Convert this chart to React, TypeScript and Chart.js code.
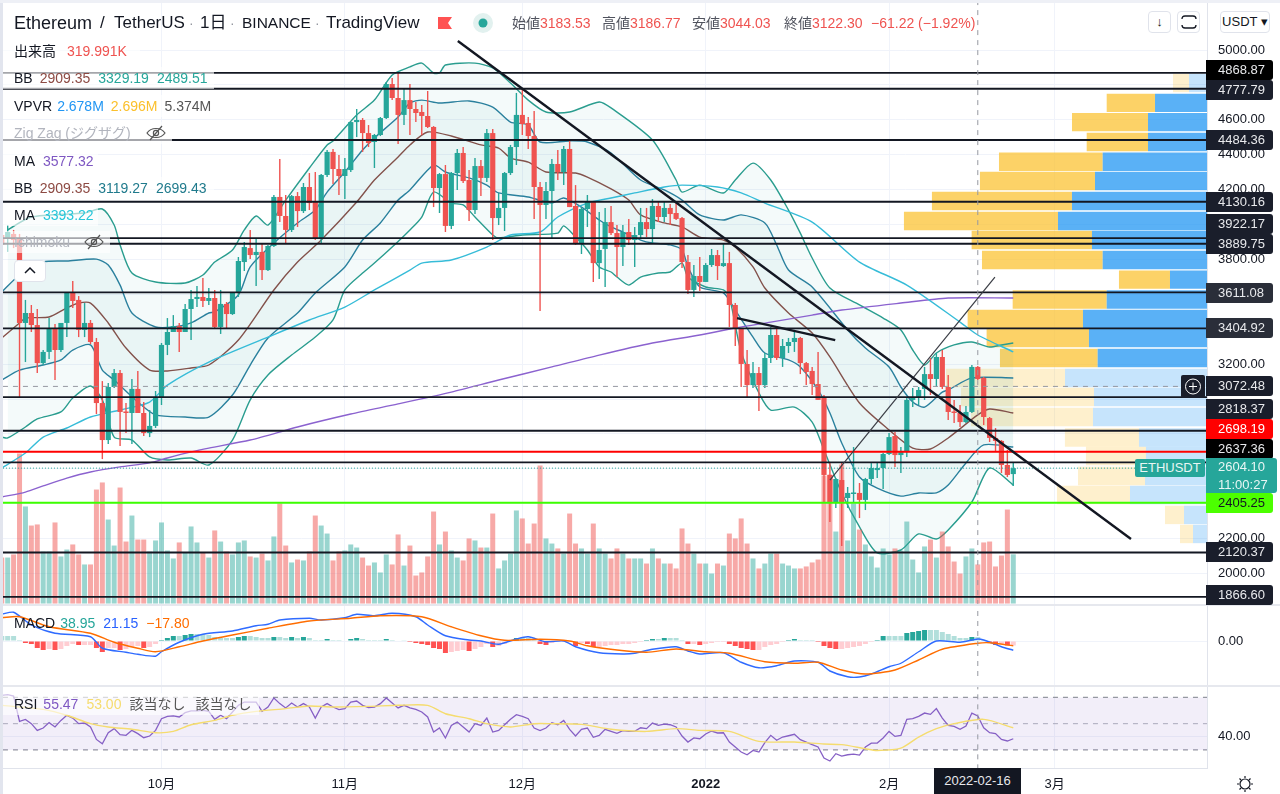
import React, { useEffect, useRef } from "react";
import { Chart, registerables } from "chart.js";

Chart.register(...registerables);

const FIRST_DAY = -27; // day index relative to 2021-10-01
const opens = [3940,3923,3946,3923,3436,3493,3424,3206,3270,3407,
3281,3436,3608,3568,3396,3436,3327,2977,2765,3069,
3149,2926,2920,3058,2920,2805,2846,3012,3310,3384,
3418,3384,3516,3573,3585,3562,3579,3413,3545,3487,
3608,3785,3865,3825,3843,3739,3877,4158,4049,3969,
4163,4077,4215,4129,3917,4284,4416,4318,4278,4312,
4587,4599,4524,4473,4513,4610,4805,4725,4628,4713,
4662,4645,4622,4559,4209,4289,3992,4295,4410,4255,
4083,4335,4267,4524,4037,4095,4295,4444,4628,4582,
4507,4215,4112,4192,4347,4301,4433,4106,3888,4089,
4129,3779,3860,4014,3951,3871,3957,3911,3940,4014,
3974,4106,4043,4095,4066,4037,3785,3625,3705,3671,
3768,3825,3762,3779,3539,3407,3201,3080,3149,3080,
3235,3367,3235,3304,3327,3350,3206,3161,3086,3006,
2565,2404,2536,2433,2456,2462,2422,2542,2593,2605,
2685,2788,2679,2696,2995,3012,3058,3143,3115,3241,
3069,2926,2920,2868,2926,3184,3121,2891,2777,2760,
2622,2570];
const closes = [3883,3957,3911,3436,3493,3424,3206,3270,3407,3281,
3436,3608,3562,3396,3436,3327,2977,2765,3069,3149,
2926,2920,3058,2920,2805,2846,3012,3310,3384,3418,
3384,3516,3573,3585,3562,3579,3413,3545,3487,3608,
3791,3871,3825,3843,3739,3877,4158,4049,3969,4163,
4077,4215,4123,3917,4284,4416,4318,4278,4318,4587,
4599,4524,4467,4513,4610,4805,4725,4628,4713,4662,
4639,4622,4559,4209,4289,3992,4295,4410,4249,4083,
4335,4267,4524,4037,4095,4295,4444,4628,4576,4507,
4215,4112,4192,4347,4301,4433,4100,3888,4089,4129,
3779,3854,4014,3951,3871,3957,3911,3940,4014,3974,
4106,4043,4095,4060,4032,3785,3625,3705,3671,3768,
3825,3762,3779,3539,3407,3201,3080,3149,3080,3235,
3367,3235,3304,3327,3350,3206,3155,3086,2995,2565,
2404,2542,2404,2462,2462,2422,2542,2605,2605,2685,
2782,2679,2696,2995,3012,3052,3143,3115,3241,3069,
2926,2920,2868,2926,3184,3115,2897,2777,2760,2622,
2565,2604];
const highs = [3980,3997,3969,3946,3568,3539,3516,3281,3464,3430,
3436,3613,3676,3590,3550,3453,3350,3103,3092,3172,
3166,2977,3115,3161,2983,2937,3046,3321,3464,3481,
3436,3545,3625,3648,3694,3636,3625,3625,3556,3613,
3814,3900,3969,3917,3894,3883,4169,4375,4169,4169,
4186,4238,4295,4301,4289,4427,4433,4398,4381,4587,
4662,4610,4570,4519,4616,4817,4840,4868,4782,4805,
4702,4685,4765,4564,4295,4341,4301,4433,4444,4312,
4381,4370,4547,4547,4181,4301,4456,4754,4776,4616,
4650,4244,4244,4375,4427,4450,4490,4226,4100,4169,
4135,4072,4095,4106,3997,3997,4032,3986,4095,4095,
4146,4129,4129,4118,4129,4043,3825,3768,3814,3779,
3860,3854,3894,3843,3550,3407,3281,3212,3184,3264,
3413,3413,3344,3350,3396,3356,3212,3184,3270,3023,
2633,2548,2633,2496,2725,2519,2548,2633,2639,2691,
2805,2811,2725,3006,3063,3069,3184,3235,3264,3281,
3138,2995,2966,2960,3195,3189,3126,2897,2834,2765,
2708,2633];
const lows = [3854,3843,3865,3006,3212,3384,3149,3195,3229,3109,
3270,3355,3522,3355,3355,3315,2914,2656,2742,3063,
2731,2805,2742,2920,2788,2782,2834,2966,3252,3384,
3270,3384,3338,3527,3527,3539,3407,3373,3407,3482,
3585,3734,3802,3648,3682,3734,3871,4014,3888,3957,
3986,4066,4083,3911,3894,4272,4232,4169,4146,4301,
4501,4416,4444,4324,4507,4605,4713,4461,4570,4513,
4587,4513,4553,4100,4066,3957,3974,4198,4238,4020,
4060,4163,4244,3911,3997,3963,4284,4341,4513,4433,
4032,3504,4032,3923,4255,4226,4100,3883,3831,3986,
3671,3688,3642,3940,3699,3762,3883,3757,3917,3928,
3894,4014,4014,3997,4026,3751,3602,3585,3619,3671,
3757,3682,3757,3413,3304,3069,3006,3063,2931,3063,
3206,3224,3184,3264,3270,3143,3080,3023,2995,2404,
2295,2376,2158,2376,2404,2318,2364,2513,2547,2484,
2679,2611,2576,2668,2954,2966,2995,3023,3069,3058,
2880,2863,2840,2863,2920,3109,2851,2754,2697,2576,
2553,2502];
const volumes = [299,299,319,975,631,507,514,338,338,527,
306,351,384,319,254,254,741,787,546,377,
754,403,572,416,416,338,410,527,345,293,
397,332,501,397,332,299,475,403,338,319,
397,410,306,299,325,280,436,650,377,267,
286,280,338,572,507,455,280,338,345,384,
364,299,247,267,202,319,254,449,247,377,
182,202,306,598,384,468,345,299,280,423,
410,364,364,585,228,280,325,605,
553,390,520,897,423,390,358,325,585,390,
358,325,520,358,325,293,358,325,293,293,
293,260,358,293,260,260,228,488,390,325,
260,260,195,260,247,455,423,553,390,293,
228,260,325,325,260,247,228,
228,241,267,286,832,839,468,904,410,650,481,384,306,234,358,319,358,345,533,286,202,371,416,299,468,371,273,195,306,358,254,397,403,241,312,611,320];
const macdHist = [20,20,20,4,-8,-12,-28,-36,-32,-36,-32,-20,-12,-16,-16,-16,-28,-44,-28,-28,
-36,-32,-24,-20,-28,-24,-12,4,12,20,20,24,28,28,28,24,16,12,12,12,
16,20,20,16,12,12,16,16,12,16,12,16,12,4,4,8,4,4,2,8,
12,8,4,4,4,8,4,2,1,-4,-8,-12,-16,-28,-32,-48,-44,-40,-36,-40,
-32,-24,-12,-24,-20,-12,-4,
12,12,12,4,-12,-16,-8,-4,-4,-4,-20,-8,-12,-24,-24,-20,-16,-16,-12,-12,
-8,-4,4,8,8,12,12,12,4,-12,-12,-16,-12,-8,-4,-4,-12,-20,-28,-32,
-36,-36,-24,-16,-12,-4,4,8,4,4,4,-4,-20,-28,-32,-32,-28,-24,-20,-12,
-4,4,20,20,20,20,32,36,40,44,44,44,36,28,20,12,12,16,16,4,
-4,-16,-12,-18,-18];
const macdLine = [[-27,107],[-25,115],[-22,64],[-18,31],[-12,17],[-10,-29],[-6,-45],[-4,-53],[-1,-61],[0,-43],[3,-5],[7,27],[12,40],[16,61],[18,67],[20,84],[25,91],[27,84],[31,93],[33,107],[36,101],[39,111],[43,97],[45,64],[48,21],[52,4],[54,0],[57,-13],[60,8],[62,17],[65,-3],[68,0],[70,-23],[74,-47],[78,-52],[80,-49],[83,-33],[87,-23],[89,-40],[91,-52],[95,-47],[98,-85],[101,-107],[104,-99],[107,-80],[111,-85],[113,-120],[116,-143],[118,-144],[120,-132],[123,-103],[125,-89],[128,-43],[131,0],[135,-5],[138,8],[139,4],[142,-23],[144,-37]];
const macdSignal = [[-27,93],[-24,97],[-19,57],[-12,31],[-8,-5],[-4,-29],[-1,-43],[3,-23],[7,0],[12,24],[18,51],[25,80],[32,91],[37,101],[44,97],[49,57],[54,21],[58,3],[64,7],[69,0],[72,-19],[77,-36],[82,-45],[87,-32],[92,-43],[96,-49],[102,-83],[107,-89],[111,-85],[115,-116],[119,-132],[124,-116],[128,-76],[132,-33],[138,-9],[140,-7],[144,-19]];
const rsiValues = [71.6,72.1,71.1,51.8,53.3,50,44.9,46.7,50.8,47.5,52.5,56.4,54.3,50,50.5,47.5,38,34.7,43.1,46.2,41.6,41.1,44.9,42.4,39.3,40.6,44.9,53.8,55.6,55.9,55.1,58.4,59.7,59.7,60.2,59.4,53.3,56.4,53.8,58.9,64,66.5,66.5,66.5,59.4,62.7,69.6,65.3,62,65.8,62.7,65.3,62.7,54.3,62.7,65.3,62.7,60.7,61.5,66.5,67.3,64,62.2,62.7,65.3,69.6,65.8,62,64,62,60.9,58.9,55.1,43.6,46.7,39.1,48.7,51.3,47.5,43.6,50,48.7,54.3,43.6,44.9,49.2,53.3,56.9,
55.6,53.8,46.7,44.7,46.7,50.8,49.2,52.5,45.7,40.6,45.7,46.7,39.6,41.1,45.7,44.1,42.6,44.7,44.1,44.1,46.9,46.2,50.5,48.7,49.7,49.2,47.5,40.6,36,39.1,38.5,42.1,44.4,42.9,43.1,36,32.2,28.4,26.3,29.6,28.4,35.5,41.1,37.3,39.8,40.8,41.9,37.8,36,34,32.2,23.8,21.5,27.1,25.3,26.3,26.8,26.1,32.2,35.2,35.2,39.1,44.1,40.3,41.1,53.3,53.8,55.6,58.1,57.1,61.5,54.3,48.7,48,45.7,48.2,58.1,55.9,46.9,43.1,42.4,38,36.8,38.5];
const rsiAverage = [[-27,64],[-24,62.7],[-20,60.9],[-16,56.4],[-12,50],[-9,47.5],[-5,45.7],[-1,43.1],[2,44.1],[5,49.2],[9,52.5],[12,56.4],[16,59.4],[21,61.5],[25,63.5],[29,62.7],[35,63.2],[40,64],[45,64],[48,57.6],[52,53.8],[55,50],[59,47.5],[63,50],[66,50],[71,49.5],[76,45.7],[82,44.1],[87,46.2],[91,44.9],[96,44.1],[101,36.5],[107,36],[112,34.5],[115,34],[119,30.9],[121,29.6],[125,31.4],[128,39.8],[131,46.2],[134,50],[139,53.3],[144,46.9]];
const bbOuterUpper = [[-26,3969],[-22,4043],[-13,4066],[-10,4089],[-8,3997],[-7,3883],[-5,3722],[-1,3671],[4,3665],[7,3711],[9,3785],[12,3854],[14,3969],[16,4049],[18,3997],[21,4140],[25,4324],[28,4456],[29,4479],[33,4628],[36,4713],[39,4857],[42,4903],[44,4925],[46,4868],[47,4868],[48,4914],[53,4925],[56,4897],[59,4811],[62,4713],[65,4645],[69,4645],[74,4702],[76,4668],[83,4484],[87,4255],[88,4186],[91,4226],[95,4181],[97,4255],[100,4352],[103,4255],[106,4083],[108,3951],[110,3808],[113,3636],[118,3539],[122,3464],[125,3396],[127,3281],[129,3195],[131,3264],[134,3310],[137,3327],[140,3298],[142,3310],[144,3321]];
const bbOuterLower = [[-27,2782],[-26,2777],[-23,2840],[-21,2886],[-17,2926],[-15,3006],[-12,3075],[-10,2995],[-8,2782],[-5,2765],[-2,2668],[1,2651],[5,2662],[8,2622],[12,2765],[15,2995],[18,3138],[22,3252],[26,3355],[29,3453],[31,3625],[34,3722],[36,3779],[39,3871],[42,3969],[44,4043],[46,4186],[49,4123],[51,4112],[53,4043],[56,3940],[57,3923],[61,3940],[67,3951],[68,3992],[70,3928],[72,3854],[74,3757],[76,3728],[77,3699],[79,3653],[81,3699],[84,3722],[86,3728],[88,3779],[89,3699],[92,3642],[95,3625],[96,3585],[98,3270],[101,3035],[103,2937],[107,2954],[110,2868],[112,2708],[115,2462],[118,2267],[121,2118],[125,2135],[128,2227],[131,2198],[133,2250],[137,2410],[140,2605],[144,2507]];
const bbInnerUpper = [[-27,3613],[-24,3711],[-20,3785],[-16,3791],[-11,3802],[-9,3768],[-7,3653],[-5,3493],[-1,3413],[2,3413],[5,3436],[8,3493],[9,3499],[13,3596],[15,3757],[19,3894],[23,4009],[26,4083],[28,4186],[31,4301],[34,4427],[36,4496],[40,4616],[42,4696],[44,4713],[47,4696],[52,4708],[56,4673],[59,4587],[62,4570],[64,4473],[69,4479],[72,4473],[76,4410],[81,4255],[85,4198],[88,4140],[91,4055],[95,4026],[98,4055],[102,4009],[104,3883],[106,3739],[110,3642],[116,3396],[119,3292],[123,3184],[125,3069],[127,2983],[129,2954],[132,3040],[133,3052],[137,3121],[144,3121]];
const bbInnerLower = [[-27,3109],[-24,3166],[-20,3195],[-17,3224],[-15,3281],[-12,3310],[-10,3166],[-8,3109],[-4,2983],[-1,2909],[4,2897],[8,2897],[12,3023],[15,3195],[18,3350],[23,3493],[26,3608],[31,3757],[34,3911],[37,4009],[40,4140],[42,4198],[46,4341],[48,4301],[52,4267],[55,4226],[57,4181],[62,4158],[66,4123],[68,4152],[71,4100],[74,4026],[76,3986],[78,3957],[81,3911],[83,3894],[86,3883],[88,3854],[89,3757],[91,3642],[95,3608],[97,3510],[100,3355],[102,3264],[106,3224],[108,3184],[111,3052],[113,2920],[115,2748],[118,2553],[121,2490],[125,2444],[128,2462],[131,2462],[133,2507],[136,2634],[139,2737],[144,2725]];
const bbBasis = [[-27,3350],[-24,3436],[-23,3464],[-19,3470],[-16,3522],[-14,3550],[-12,3550],[-9,3436],[-6,3292],[-2,3166],[1,3161],[5,3178],[8,3195],[13,3338],[19,3625],[23,3785],[27,3911],[33,4129],[36,4255],[40,4387],[42,4456],[45,4530],[49,4507],[54,4456],[57,4438],[59,4381],[62,4358],[65,4301],[70,4295],[72,4272],[76,4204],[79,4140],[81,4055],[85,4009],[88,3986],[91,3928],[95,3911],[97,3871],[100,3757],[102,3636],[106,3493],[110,3378],[113,3241],[118,2977],[123,2823],[127,2719],[130,2714],[133,2777],[138,2909],[140,2943],[144,2920]];
const maCyan = [[-27,2605],[-23,2691],[-20,2782],[-16,2834],[-12,2897],[-7,2937],[-2,2983],[1,3080],[8,3212],[18,3355],[25,3453],[31,3527],[36,3625],[42,3739],[44,3779],[49,3797],[55,3871],[59,3940],[64,3957],[67,4043],[72,4123],[76,4152],[80,4181],[85,4215],[88,4226],[94,4215],[98,4181],[102,4123],[110,4014],[118,3785],[126,3653],[135,3441],[138,3367],[144,3270]];
const maPurple = [[-27,2439],[-23,2467],[-20,2502],[-16,2547],[-12,2582],[-7,2611],[-2,2634],[1,2662],[5,2697],[8,2719],[15,2765],[23,2840],[32,2914],[40,2972],[49,3040],[57,3109],[66,3184],[74,3252],[83,3321],[91,3367],[97,3407],[103,3441],[110,3481],[115,3510],[125,3550],[133,3579],[144,3579]];
const levelPrices = [4868.87,4777.79,4484.36,4130.16,3922.17,3889.75,3611.08,3404.92,3011,2818.37,2637.36,2120.37,1866.6];
const redLevel = 2698.19;
const greenLevel = 2405.25;
const lastPrice = 2604.1;
const crossPrice = 3072.48;
const crossDay = 138;
const trendLines = [[[50.1,5052],[163.9,2198]],[[97.3,3464],[113.9,3338]]];
const thinTrend = [[113,2536],[140.9,3699]];
const vpPrices = [4811,4697,4587,4473,4360,4249,4135,4020,3911,3797,3684,3570,3459,3350,3235,3121,3012,2897,2780,2674,2559,2450,2336,2227];
const vpUp = [.319,.92,1.044,1.044,1.846,1.982,2.39,2.637,2.036,1.846,.655,1.775,2.195,2.089,1.935,2.513,2,2.018,1.204,1.08,1.097,1.363,.407,.248];
const vpDown = [.283,.855,1.345,1.085,1.835,2.036,2.478,2.726,2.129,2.136,.903,1.664,2.041,1.811,1.729,2.106,2.354,2.159,1.31,1.062,1.186,1.292,.336,.23];
const vpPale = [true,false,false,false,false,false,false,false,false,false,false,false,false,false,false,true,true,true,true,true,true,true,true,true];
const priceTicks = [2000,2200,2400,2600,2800,3000,3200,3400,3600,3800,4000,4200,4400,4600,4800,5000];
const shownPriceTicks = [2000,2200,3200,3800,4200,4400,4600,5000];
const monthDays = [0,31,61,92,123,151];
const monthLabels = ["10月","11月","12月","2022","2月","3月"];

const UP = "#26a69a", DOWN = "#ef5350", DARK = "#131722", GRID = "#f0f3fa";
const FONT = '"Liberation Sans","Noto Sans CJK JP",sans-serif';
const X_LEFT = -27.3, X_RIGHT = 176.75, X_START = -26.8;
const toXY = (p: number[][]) => p.map(([x, y]) => ({ x, y }));
const curve = (data: number[][], color: string, order: number, extra: any = {}) => ({
  type: "line", data: toXY(data), borderColor: color, borderWidth: 1.4, pointRadius: 0, tension: 0.25, order, yAxisID: "y", xAxisID: "x", ...extra,
});
const flat = (y: number, color: string, width: number, order: number, yAxisID = "y", extra: any = {}, x1 = X_RIGHT, x0 = X_START) => ({
  type: "line", data: [{ x: x0, y }, { x: x1, y }], borderColor: color, borderWidth: width, pointRadius: 0, order, yAxisID, xAxisID: "x", ...extra,
});

function makeDatasets() {
  const days = opens.map((_, i) => FIRST_DAY + i);
  const isUp = days.map((_, i) => closes[i] >= opens[i]);
  const bar = { type: "bar", grouped: false, barPercentage: 1, categoryPercentage: 1, inflateAmount: 0, borderWidth: 0, xAxisID: "x" };
  const hv = { ...bar, xAxisID: "xv", yAxisID: "yv", indexAxis: "y", barThickness: 18.4, order: 60 };
  const ds: any[] = [
    { ...hv, data: vpPrices.map((y, i) => ({ y, x: [0, vpUp[i]] })), backgroundColor: vpPale.map(p => p ? "rgba(33,150,243,.26)" : "rgba(33,150,243,.74)") },
    { ...hv, data: vpPrices.map((y, i) => ({ y, x: [vpUp[i], vpUp[i] + vpDown[i]] })), backgroundColor: vpPale.map(p => p ? "rgba(251,192,45,.24)" : "rgba(251,192,45,.72)") },
    curve(bbOuterUpper, "#2a9d8f", 50, { fill: { target: "+1" }, backgroundColor: "rgba(38,166,154,.05)" }),
    curve(bbOuterLower, "#2a9d8f", 50),
    curve(bbInnerUpper, "#2b7f9e", 50, { fill: { target: "+1" }, backgroundColor: "rgba(38,166,154,.05)" }),
    curve(bbInnerLower, "#2b7f9e", 50),
    curve(bbBasis, "#8d4a43", 50),
    { ...bar, data: days.map((x, i) => ({ x, y: volumes[i] })), yAxisID: "vol", barThickness: 5, order: 40, backgroundColor: isUp.map(u => u ? "rgba(38,166,154,.47)" : "rgba(239,83,80,.5)") },
    curve(maCyan, "#36bcd8", 30),
    curve(maPurple, "#8b62cf", 30),
    { ...bar, data: days.map((x, i) => ({ x, y: [lows[i], highs[i]] })), yAxisID: "y", barThickness: 1.4, order: 22, backgroundColor: isUp.map(u => u ? UP : DOWN) },
    { ...bar, data: days.map((x, i) => ({ x, y: [Math.min(opens[i], closes[i]), Math.max(opens[i], closes[i])] })), yAxisID: "y", barThickness: 5.2, minBarLength: 1.5, order: 20, backgroundColor: isUp.map(u => u ? UP : DOWN) },
    ...levelPrices.map(p => flat(p, DARK, 1.9, 5)),
    flat(redLevel, "#ff0000", 1.9, 5),
    flat(greenLevel, "#3cff00", 2, 5),
    flat(lastPrice, UP, 1, 6, "y", { borderDash: [1, 2] }, 164.6),
    flat(crossPrice, "#9598a1", 1, 6, "y", { borderDash: [5, 5] }, 172.2),
    ...trendLines.map(t => ({ ...curve(t, DARK, 4), borderWidth: 2.4, tension: 0 })),
    { ...curve(thinTrend, "#3a3d45", 4), borderWidth: 1.2, tension: 0 },
    { type: "line", data: [{ x: crossDay, y: 5286 }, { x: crossDay, y: 1826 }], borderColor: "#9598a1", borderWidth: 1, borderDash: [5, 5], pointRadius: 0, yAxisID: "y", xAxisID: "x", order: 3 },
    { type: "line", data: [{ x: crossDay, y: 160 }, { x: crossDay, y: -160 }], borderColor: "#9598a1", borderWidth: 1, borderDash: [5, 5], pointRadius: 0, yAxisID: "macd", xAxisID: "x", order: 3 },
    { type: "line", data: [{ x: crossDay, y: 80 }, { x: crossDay, y: 16 }], borderColor: "#9598a1", borderWidth: 1, borderDash: [5, 5], pointRadius: 0, yAxisID: "rsi", xAxisID: "x", order: 3 },
    { ...bar, data: days.map((x, i) => ({ x, y: macdHist[i] })), yAxisID: "macd", barThickness: 5, order: 12, backgroundColor: macdHist.map((v, i) => {
      const prev = i ? macdHist[i - 1] : v;
      return v >= 0 ? (v > prev ? UP : "#b2dfdb") : (v < prev ? "#ff5252" : "#ffcdd2");
    }) },
    curve(macdLine, "#2f6bff", 8, { yAxisID: "macd" }),
    curve(macdSignal, "#ff6d00", 7, { yAxisID: "macd" }),
    flat(70, "#9598a1", 1.2, 9, "rsi", { borderDash: [5, 5], fill: { target: "+1" }, backgroundColor: "rgba(126,87,194,.1)" }),
    flat(30, "#9598a1", 1.2, 9, "rsi", { borderDash: [5, 5] }),
    flat(50, "#b0b3bb", 1, 9, "rsi", { borderDash: [5, 5] }),
    { type: "line", data: rsiValues.map((y, i) => ({ x: FIRST_DAY + i, y })), borderColor: "#8660c5", borderWidth: 1.3, pointRadius: 0, yAxisID: "rsi", xAxisID: "x", order: 8 },
    curve(rsiAverage, "#f5dc6e", 7, { yAxisID: "rsi" }),
  ];
  return ds;
}

const noPad = (s: any) => { s.paddingTop = 0; s.paddingBottom = 0; s.paddingLeft = 0; s.paddingRight = 0; };
const valueAxis = (weight: number, stackWeight: number, min: number, max: number, ticks: number[], label: (v: number) => string) => ({
  type: "linear", position: "right", stack: "panes", stackWeight, weight, min, max, offset: false,
  afterBuildTicks: (s: any) => { s.ticks = ticks.map(value => ({ value })); },
  afterFit: (s: any) => { s.width = 73; noPad(s); },
  grid: { color: GRID, drawTicks: false, offset: false },
  border: { display: true, color: "#e0e3eb" },
  ticks: { autoSkip: false, padding: 11, color: DARK, font: { family: FONT, size: 13 }, callback: (v: number) => label(v) },
});

function row(top: number, bg: number, kids: React.ReactNode) {
  return <div style={{ position: "absolute", left: 3, top: top - 11, height: 22, width: bg - 3, paddingLeft: 11, boxSizing: "border-box", lineHeight: "22px", fontSize: 14, whiteSpace: "nowrap", background: "rgba(255,255,255,.62)", color: DARK }}>{kids}</div>;
}
const V = ({ c, t, gap = 8 }: { c: string; t: string; gap?: number }) => <span style={{ color: c, marginLeft: gap }}>{t}</span>;
const Eye = ({ x, y }: { x: number; y: number }) => (
  <svg width="20" height="16" style={{ position: "absolute", left: x, top: y }} viewBox="0 0 20 16" fill="none" stroke="#555" strokeWidth="1.2">
    <path d="M1 8 C5 2 15 2 19 8 C15 14 5 14 1 8Z" /><circle cx="10" cy="8" r="2.6" /><path d="M4 15 L16 1" />
  </svg>
);
const Tag = ({ y, text, bg = "#1a1e2b", color = "#e8e9ec" }: { y: number; text: string; bg?: string; color?: string }) => (
  <div style={{ position: "absolute", left: 1206, top: y - 10, width: 67, height: 20, background: bg, color, fontSize: 13, lineHeight: "20px", paddingLeft: 12, boxSizing: "border-box", borderRadius: "0 3px 3px 0" }}>{text}</div>
);
const btn = (left: number, width: number): React.CSSProperties => ({ position: "absolute", left, top: 11, width, height: 22, background: "#fff", border: "1px solid #e0e3eb", borderRadius: 4, boxSizing: "border-box", textAlign: "center", lineHeight: "20px", fontSize: 13, color: DARK });
const Word = ({ x, t, size = 17, c = DARK }: { x: number; t: string; size?: number; c?: string }) => (
  <div style={{ position: "absolute", left: x, top: 12, lineHeight: "22px", fontSize: size, color: c, whiteSpace: "nowrap" }}>{t}</div>
);

export default function App() {
  const ref = useRef<HTMLCanvasElement>(null);
  useEffect(() => {
    const chart = new Chart(ref.current as HTMLCanvasElement, {
      type: "bar",
      data: { datasets: makeDatasets() },
      options: {
        animation: false, responsive: false, events: [],
        layout: { padding: 0 },
        plugins: { legend: { display: false }, tooltip: { enabled: false } },
        scales: {
          x: {
            type: "linear", position: "bottom", min: X_LEFT, max: X_RIGHT, offset: false,
            afterBuildTicks: (s: any) => { s.ticks = monthDays.map(value => ({ value })); },
            afterFit: (s: any) => { s.height = 26; noPad(s); },
            grid: { color: GRID, drawTicks: false, offset: false },
            border: { display: true, color: "#e0e3eb" },
            ticks: {
              autoSkip: false, maxRotation: 0, padding: 9, color: DARK,
              font: (c: any) => ({ family: FONT, size: 13, weight: c.tick && c.tick.value === 92 ? "bold" : "normal" }),
              callback: (v: number) => monthLabels[monthDays.indexOf(v)],
            },
          },
          xv: { type: "linear", axis: "x", display: false, reverse: true, min: 0, max: 21.36, offset: false, grid: { offset: false } },
          y: valueAxis(1, 604, 1825.6, 5286.5, priceTicks, v => shownPriceTicks.includes(v) ? v.toFixed(2) : ""),
          macd: valueAxis(2, 81, -176, 148, [0], v => v.toFixed(2)),
          rsi: valueAxis(3, 83, 16.2, 79.5, [40], v => v.toFixed(2)),
          yv: { type: "linear", axis: "y", position: "right", display: false, min: 885.9, max: 5286.5, offset: false, grid: { offset: false } },
          vol: { type: "linear", axis: "y", position: "right", display: false, min: -1069, max: 3923, offset: false, grid: { offset: false } },
        },
      } as any,
    } as any);
    return () => chart.destroy();
  }, []);
  const red = DOWN;
  return (
    <div style={{ position: "fixed", left: 0, top: 0, width: 1280, height: 794, overflow: "hidden", background: "#fff", fontFamily: FONT }}>
      <canvas ref={ref} width={1280} height={794} style={{ position: "absolute", left: 0, top: 0 }} />
      <div style={{ position: "absolute", left: 0, top: 0, width: 3, height: 794, background: "#e2e5ee" }} />
      <div style={{ position: "absolute", left: 0, top: 0, width: 1280, height: 3, background: "#eef0f6" }} />
      <div style={{ position: "absolute", left: 3, top: 604, width: 1277, height: 1.5, background: "#e6e8ee" }} />
      <div style={{ position: "absolute", left: 3, top: 685, width: 1277, height: 1.5, background: "#e6e8ee" }} />

      <Word x={14} t="Ethereum" size={18} />
      <Word x={100} t="/" />
      <Word x={114} t="TetherUS" />
      <Word x={189} t="·" c="#9598a1" size={14} />
      <Word x={200} t="1日" />
      <Word x={230} t="·" c="#9598a1" size={14} />
      <Word x={242} t="BINANCE" size={15.5} />
      <Word x={315} t="·" c="#9598a1" size={14} />
      <Word x={326} t="TradingView" />
      <svg width="16" height="16" style={{ position: "absolute", left: 437, top: 15 }}><path d="M1 2 H15 L11 8 L15 14 H1 Z" fill="#ff5252" /></svg>
      <svg width="22" height="22" style={{ position: "absolute", left: 472, top: 12 }}><circle cx="11" cy="11" r="10" fill="#e2f1ef" /><circle cx="11" cy="11" r="4.5" fill={UP} /></svg>
      {[[512, "始値", "3183.53"], [602, "高値", "3186.77"], [692, "安値", "3044.03"], [784, "終値", "3122.30"]].map(([x, a, b]) => (
        <div key={a as string} style={{ position: "absolute", left: x as number, top: 12, lineHeight: "22px", fontSize: 14, color: "#50535e", whiteSpace: "nowrap" }}>{a}<span style={{ color: red }}>{b}</span></div>
      ))}
      <div style={{ position: "absolute", left: 871, top: 12, lineHeight: "22px", fontSize: 14, color: red, whiteSpace: "nowrap" }}>−61.22 (−1.92%)</div>

      {row(51, 140, <>出来高<V c={red} t="319.991K" gap={11} /></>)}
      {row(78, 214, <>BB<V c="#8d4a43" t="2909.35" gap={7} /><V c={UP} t="3329.19" /><V c={UP} t="2489.51" /></>)}
      {row(106, 214, <>VPVR<V c="#2196f3" t="2.678M" gap={5} /><V c="#fbc02d" t="2.696M" gap={7} /><V c="#555" t="5.374M" gap={7} /></>)}
      {row(133, 172, <span style={{ color: "#b2b5be" }}>Zig Zag (ジグザグ)</span>)}
      <Eye x={146} y={125} />
      {row(161, 98, <>MA<V c="#7e57c2" t="3577.32" gap={8} /></>)}
      {row(188, 214, <>BB<V c="#8d4a43" t="2909.35" gap={7} /><V c="#1f7a8c" t="3119.27" /><V c="#1f7a8c" t="2699.43" /></>)}
      {row(215, 98, <>MA<V c="#26c6da" t="3393.22" gap={8} /></>)}
      {row(242, 110, <span style={{ color: "#b2b5be" }}>Ichimoku</span>)}
      <Eye x={84} y={234} />
      <div style={{ position: "absolute", left: 14, top: 260, width: 32, height: 22, background: "#fff", border: "1px solid #e0e3eb", borderRadius: 4, boxSizing: "border-box" }}>
        <svg width="30" height="20"><path d="M10 12 L15 7 L20 12" fill="none" stroke={DARK} strokeWidth="1.5" /></svg>
      </div>
      <div style={{ position: "absolute", left: 14, top: 612, lineHeight: "22px", fontSize: 14, color: DARK, whiteSpace: "nowrap" }}>MACD<V c={UP} t="38.95" gap={5} /><V c="#2962ff" t="21.15" /><V c="#ff6d00" t="−17.80" /></div>
      {row(704, 259, <>RSI<V c="#7e57c2" t="55.47" gap={6} /><V c="#f5dc6e" t="53.00" /><V c="#555" t="該当なし" /><V c="#555" t="該当なし" gap={10} /></>)}

      <div style={btn(1148, 23)}>↓</div>
      <div style={btn(1177, 23)}>
        <svg width="16" height="14" style={{ marginTop: 3 }}><path d="M1 4 Q1 1 4 1 H12 Q15 1 15 4 M1 10 Q1 13 4 13 H12 Q15 13 15 10" fill="none" stroke={DARK} strokeWidth="1.3" /></svg>
      </div>
      <div style={btn(1220, 50)}>USDT ▾</div>

      <Tag y={70} text="4868.87" bg="#000" />
      <Tag y={89.5} text="4777.79" />
      <Tag y={140} text="4484.36" />
      <Tag y={202} text="4130.16" />
      <Tag y={224} text="3922.17" />
      <Tag y={244} text="3889.75" />
      <Tag y={292.5} text="3611.08" bg="#2a2e39" />
      <Tag y={328} text="3404.92" bg="#2a2e39" />
      <Tag y={386} text="3072.48" />
      <Tag y={409} text="2818.37" />
      <Tag y={429} text="2698.19" bg="#ff0000" color="#fff" />
      <Tag y={449} text="2637.36" bg="#000" />
      <div style={{ position: "absolute", left: 1206, top: 458, width: 71, height: 35, background: UP, color: "#e8f6f4", fontSize: 13, lineHeight: "17.5px", paddingLeft: 12, boxSizing: "border-box", borderRadius: "0 3px 3px 0" }}>2604.10<br />11:00:27</div>
      <div style={{ position: "absolute", left: 1135, top: 459, width: 70, height: 18, background: UP, color: "#e8f6f4", fontSize: 13, lineHeight: "18px", textAlign: "center", borderRadius: 2 }}>ETHUSDT</div>
      <Tag y={503} text="2405.25" bg="#4cff00" color={DARK} />
      <Tag y={552} text="2120.37" />
      <Tag y={595} text="1866.60" />
      <div style={{ position: "absolute", left: 1181, top: 375, width: 24, height: 23, background: "#1a1e2b", borderRadius: 2 }}>
        <svg width="24" height="23"><circle cx="12" cy="11.5" r="7.5" fill="none" stroke="#fff" /><path d="M12 7.5 V15.5 M8 11.5 H16" stroke="#fff" /></svg>
      </div>
      <div style={{ position: "absolute", left: 934, top: 768, width: 87, height: 26, background: "#131722", color: "#e8e9ec", fontSize: 13, lineHeight: "26px", textAlign: "center" }}>2022-02-16</div>
      <svg width="18" height="18" style={{ position: "absolute", left: 1236, top: 775 }} viewBox="0 0 18 18" fill="none" stroke={DARK} strokeWidth="1.2">
        <circle cx="9" cy="9" r="5" /><path d="M9 1 V3 M9 15 V17 M1 9 H3 M15 9 H17 M3.5 3.5 L5 5 M13 13 L14.5 14.5 M3.5 14.5 L5 13 M13 5 L14.5 3.5" />
      </svg>
    </div>
  );
}
